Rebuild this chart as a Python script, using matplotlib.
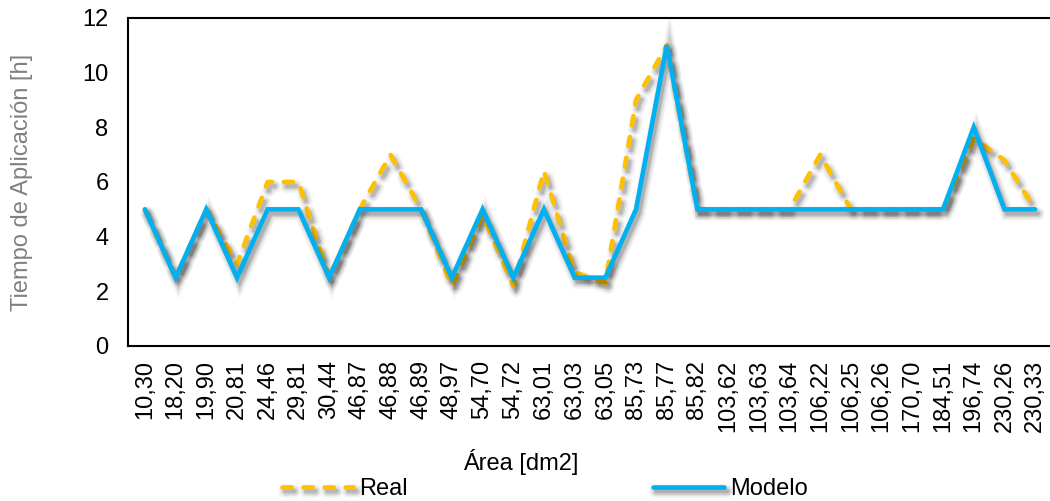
import matplotlib
matplotlib.use("Agg")
import matplotlib.pyplot as plt
import matplotlib.patheffects as pe

areas = ["10,30", "18,20", "19,90", "20,81", "24,46", "29,81", "30,44", "46,87",
         "46,88", "46,89", "48,97", "54,70", "54,72", "63,01", "63,03", "63,05",
         "85,73", "85,77", "85,82", "103,62", "103,63", "103,64", "106,22", "106,25",
         "106,26", "170,70", "184,51", "196,74", "230,26", "230,33"]

real = [5, 2.5, 5, 3, 6, 6, 2.5, 5, 7, 5, 2.2, 4.8, 2.2, 6.4, 2.7, 2.3,
        9, 11, 5, 5, 5, 5, 7, 5, 5, 5, 5, 7.6, 6.8, 5]
modelo = [5, 2.5, 5, 2.5, 5, 5, 2.5, 5, 5, 5, 2.5, 5, 2.5, 5, 2.5, 2.5,
          5, 11, 5, 5, 5, 5, 5, 5, 5, 5, 5, 8, 5, 5]

plt.rcParams["font.family"] = ["Liberation Sans", "DejaVu Sans"]
FS = 17

fig = plt.figure(figsize=(10.5, 5.01), dpi=100)
W, H = 1050, 501
left, right, top, bottom = 128, 1052, 18, 346
ax = fig.add_axes([left / W, 1 - bottom / H, (right - left) / W, (bottom - top) / H])

x = list(range(len(areas)))


def shadow(strength):
    off = (2.0, -3.0)
    return [
        pe.SimpleLineShadow(offset=off, shadow_color="black", alpha=0.04 * strength, linewidth=10),
        pe.SimpleLineShadow(offset=off, shadow_color="black", alpha=0.06 * strength, linewidth=7.5),
        pe.SimpleLineShadow(offset=off, shadow_color="black", alpha=0.09 * strength, linewidth=5),
        pe.SimpleLineShadow(offset=off, shadow_color="black", alpha=0.12 * strength, linewidth=3),
        pe.Normal(),
    ]


l_real, = ax.plot(x, real, color="#FFC000", linewidth=3.3, linestyle=(0, (2.0, 2.6)),
                  dash_capstyle="round", solid_joinstyle="round", label="Real",
                  path_effects=shadow(1.0), zorder=3)
l_mod, = ax.plot(x, modelo, color="#00B0F0", linewidth=3.3, solid_capstyle="round",
                 solid_joinstyle="miter", label="Modelo",
                 path_effects=shadow(1.1), zorder=4)

ax.set_xlim(-0.55, len(areas) - 0.45)
ax.set_ylim(0, 12)
ax.set_yticks([0, 2, 4, 6, 8, 10, 12])
ax.set_xticks(x)
ax.set_xticklabels(areas, rotation=90, fontsize=FS)
ax.tick_params(axis="y", length=0, pad=14, labelsize=FS)
ax.tick_params(axis="x", length=0, pad=10)

for side in ["left", "bottom", "top"]:
    ax.spines[side].set_linewidth(1.5)
ax.spines["right"].set_visible(False)

ax.set_ylabel("Tiempo de Aplicación [h]", fontsize=FS, color="#808080")
ax.yaxis.set_label_coords(-0.103, 0.5)
fig.text(521 / W, 1 - 462 / H, "Área [dm2]", fontsize=FS, ha="center", va="center")

fig.legend(handles=[l_real, l_mod], loc="center", bbox_to_anchor=(545 / W, 1 - 489 / H),
           ncol=2, frameon=False, fontsize=FS, handlelength=3.0, handletextpad=0.25,
           columnspacing=10.4, borderaxespad=0)

fig.savefig("out.png", dpi=100)
